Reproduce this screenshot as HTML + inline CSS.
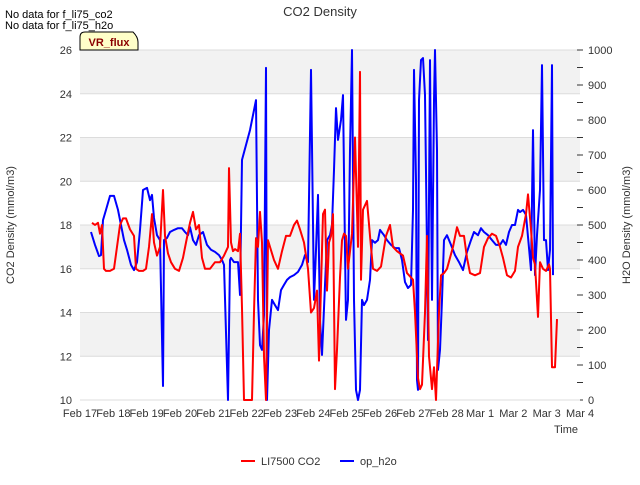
<!DOCTYPE html>
<html><head><meta charset="utf-8"><style>
body{margin:0;background:#fff;font-family:"Liberation Sans",sans-serif}
svg text{font-family:"Liberation Sans",sans-serif}
</style></head><body>
<svg id="c" width="640" height="480" xmlns="http://www.w3.org/2000/svg">
<text x="320" y="16" text-anchor="middle" font-size="13" fill="#333">CO2 Density</text>
<text x="5" y="18" font-size="11" fill="#000">No data for f_li75_co2</text>
<text x="5" y="29" font-size="11" fill="#000">No data for f_li75_h2o</text>
<g id="bands"></g>
<g id="grid"></g>
<g id="axes"></g>
<g id="series"></g>
<path d="M80,50 L80,37 Q80,32 85,32 L133,32 Q138,37 138,42 L138,50 Z" fill="#ffffc8" stroke="#000" stroke-width="1"/>
<text x="109" y="46" text-anchor="middle" font-size="11" font-weight="bold" fill="#8b0000">VR_flux</text>
<text x="14" y="225" transform="rotate(-90 14 225)" text-anchor="middle" font-size="11" fill="#333">CO2 Density (mmol/m3)</text>
<text x="630" y="225" transform="rotate(-90 630 225)" text-anchor="middle" font-size="11" fill="#333">H2O Density (mmol/m3)</text>
<text x="578" y="433" text-anchor="end" font-size="11" fill="#333">Time</text>
<g>
<line x1="241" y1="461" x2="255" y2="461" stroke="#f00" stroke-width="2"/>
<text x="261" y="465" font-size="11" fill="#333">LI7500 CO2</text>
<line x1="340" y1="461" x2="354" y2="461" stroke="#00f" stroke-width="2"/>
<text x="360" y="465" font-size="11" fill="#333">op_h2o</text>
</g>
</svg>
<script>
const xTickLabels=["Feb 17","Feb 18","Feb 19","Feb 20","Feb 21","Feb 22","Feb 23","Feb 24","Feb 25","Feb 26","Feb 27","Feb 28","Mar 1","Mar 2","Mar 3","Mar 4"];
const leftTicks=[10,12,14,16,18,20,22,24,26];
const rightTicks=[0,100,200,300,400,500,600,700,800,900,1000];
const co2Days=[.36,.45,.54,.6,.66,.72,.78,.9,1.02,1.11,1.2,1.29,1.38,1.5,1.62,1.68,1.77,1.89,1.98,2.07,2.16,2.22,2.31,2.4,2.49,2.55,2.64,2.73,2.85,2.97,3.09,3.18,3.3,3.39,3.48,3.57,3.66,3.75,3.9,4.05,4.2,4.32,4.44,4.47,4.53,4.59,4.65,4.74,4.8,4.86,4.92,5.04,5.16,5.22,5.28,5.34,5.4,5.46,5.52,5.58,5.64,5.7,5.82,5.94,6.06,6.18,6.3,6.42,6.51,6.6,6.72,6.84,6.93,7.02,7.11,7.17,7.23,7.29,7.35,7.41,7.47,7.53,7.59,7.65,7.71,7.8,7.86,7.92,7.98,8.04,8.16,8.25,8.34,8.4,8.43,8.49,8.61,8.7,8.79,8.91,9.03,9.18,9.3,9.39,9.51,9.69,9.81,9.99,10.05,10.14,10.2,10.26,10.35,10.41,10.47,10.56,10.62,10.68,10.77,10.83,10.92,11.01,11.1,11.19,11.31,11.4,11.52,11.61,11.7,11.85,12.0,12.12,12.24,12.36,12.48,12.6,12.69,12.81,12.93,13.05,13.14,13.26,13.38,13.44,13.53,13.59,13.65,13.74,13.8,13.89,13.98,14.07,14.1,14.16,14.25,14.31];
const co2Vals=[18.1,18.0,18.1,17.6,18.0,16.0,15.9,15.9,16.0,17.0,18.0,18.3,18.3,17.8,17.5,16.0,15.9,15.9,16.0,17.0,18.5,17.2,16.6,17.0,19.6,17.5,16.7,16.3,16.0,15.9,16.5,17.2,18.1,18.6,17.8,18.0,16.5,16.0,16.0,16.3,16.3,16.6,17.0,20.6,17.2,16.8,16.9,16.8,17.6,14.2,10.0,10.0,10.0,14.0,17.4,17.0,18.6,17.2,12.0,10.0,17.3,17.0,16.4,16.0,16.8,17.5,17.5,18.0,18.2,17.8,17.2,16.0,14.0,14.2,15.0,11.8,15.2,18.5,18.7,15.0,17.2,17.5,18.5,10.5,12.3,15.6,17.3,17.6,17.5,16.0,17.6,22,17,25,15.5,18.7,19.1,17.5,16.0,15.9,16.1,17.5,18.0,17.0,16.8,16.6,15.8,15.5,14.0,11.0,10.5,10.7,14.0,17.5,12.0,10.5,11.5,10.0,14.0,15.7,15.8,16.0,16.5,17.0,17.9,17.5,17.5,16.5,15.8,15.7,15.8,17.0,17.4,17.6,17.5,17.0,16.5,15.7,15.6,15.9,17.0,17.5,18.5,19.4,17.8,16.5,16.2,13.8,16.3,16.0,15.9,16.2,16.0,11.5,11.5,13.7];
const h2oDays=[.33,.45,.57,.63,.69,.78,.9,1.02,1.14,1.23,1.32,1.41,1.53,1.62,1.71,1.8,1.89,2.01,2.1,2.16,2.22,2.31,2.4,2.49,2.52,2.61,2.7,2.82,2.94,3.06,3.15,3.24,3.3,3.39,3.48,3.57,3.69,3.81,3.93,4.05,4.17,4.26,4.32,4.44,4.5,4.53,4.62,4.74,4.8,4.86,5.1,5.28,5.34,5.4,5.46,5.52,5.58,5.61,5.67,5.76,5.85,5.94,6.03,6.12,6.21,6.3,6.42,6.54,6.66,6.75,6.84,6.93,7.02,7.08,7.14,7.2,7.26,7.35,7.41,7.5,7.56,7.62,7.68,7.74,7.83,7.89,7.95,7.98,8.04,8.1,8.16,8.22,8.28,8.34,8.4,8.46,8.52,8.61,8.7,8.76,8.85,8.94,9.0,9.12,9.21,9.33,9.45,9.57,9.66,9.75,9.84,9.93,9.99,10.02,10.08,10.11,10.14,10.17,10.23,10.29,10.35,10.41,10.44,10.5,10.56,10.62,10.65,10.71,10.74,10.8,10.86,10.92,11.01,11.13,11.25,11.37,11.49,11.61,11.73,11.82,11.94,12.03,12.12,12.24,12.36,12.48,12.6,12.69,12.78,12.87,12.96,13.05,13.14,13.2,13.29,13.38,13.53,13.59,13.65,13.71,13.8,13.86,13.92,13.98,14.04,14.1,14.16,14.19];
const h2oVals=[480,443,411,414,514,543,583,583,543,500,457,429,386,371,394,486,600,606,571,586,520,471,457,40,457,463,480,486,491,491,480,471,494,457,443,471,480,443,429,423,414,400,386,0,400,406,394,394,300,686,771,857,286,157,143,243,949,0,200,286,271,257,314,329,343,351,357,366,386,414,394,943,286,429,586,229,129,329,457,471,500,657,834,743,800,871,429,229,286,714,1000,286,29,0,29,286,271,286,343,457,449,457,486,471,457,443,434,434,400,337,320,329,543,943,629,57,29,857,971,977,871,429,171,971,286,857,1000,714,86,143,286,457,471,443,414,394,371,423,457,480,471,491,480,471,457,443,443,457,443,480,500,500,543,537,543,529,371,771,357,471,600,957,457,457,371,429,957,357];

const NS="http://www.w3.org/2000/svg";
const L=80,R=580,T=50,B=400;
const xS=d=>L+(R-L)*d/15;
const yL=v=>B-(B-T)*(v-10)/16;
const yR=v=>B-(B-T)*v/1000;
function mk(tag,attrs,parent){const e=document.createElementNS(NS,tag);for(const k in attrs)e.setAttribute(k,attrs[k]);parent.appendChild(e);return e;}
const bands=document.getElementById('bands'),grid=document.getElementById('grid'),axes=document.getElementById('axes'),series=document.getElementById('series');
for(let i=0;i<leftTicks.length-1;i++){
  const r=mk('rect',{x:L,y:yL(leftTicks[i+1]),width:R-L,height:yL(leftTicks[i])-yL(leftTicks[i+1]),fill:(i%2===0)?'#ffffff':'#f2f2f2'},bands);
  
  
}
leftTicks.forEach(v=>{
  const l=mk('line',{x1:L,x2:R,y1:yL(v),y2:yL(v),stroke:'#dcdcdc','stroke-width':1},grid);
  
  
  const t=mk('text',{x:L-8,y:yL(v)+4,'text-anchor':'end','font-size':11,fill:'#333'},axes);
  t.textContent=v;
  
  
});
rightTicks.forEach(v=>{
  const t=mk('text',{x:R+8,y:yR(v)+4,'font-size':11,fill:'#333'},axes);
  t.textContent=v;
  
  
});
for(let v=0;v<=1000;v+=50){
  const k=mk('line',{x1:R-3,x2:R+3,y1:yR(v),y2:yR(v),stroke:'#333','stroke-width':1},axes);
  
  
}
xTickLabels.forEach((s,i)=>{
  const t=mk('text',{x:xS(i),y:B+17,'text-anchor':'middle','font-size':11,fill:'#333'},axes);
  t.textContent=s;
  
  
});
const ax=mk('line',{x1:L,x2:R,y1:B,y2:B,stroke:'#dcdcdc'},axes);


function poly(days,vals,ys,color){return days.map((d,i)=>xS(d).toFixed(1)+','+ys(vals[i]).toFixed(1)).join(' ');}
const pb=mk('polyline',{points:poly(h2oDays,h2oVals,yR),fill:'none',stroke:'#0000ff','stroke-width':2,'stroke-linejoin':'round'},series);


const pr=mk('polyline',{points:poly(co2Days,co2Vals,yL),fill:'none',stroke:'#ff0000','stroke-width':2,'stroke-linejoin':'round'},series);


</script>
</body></html>
